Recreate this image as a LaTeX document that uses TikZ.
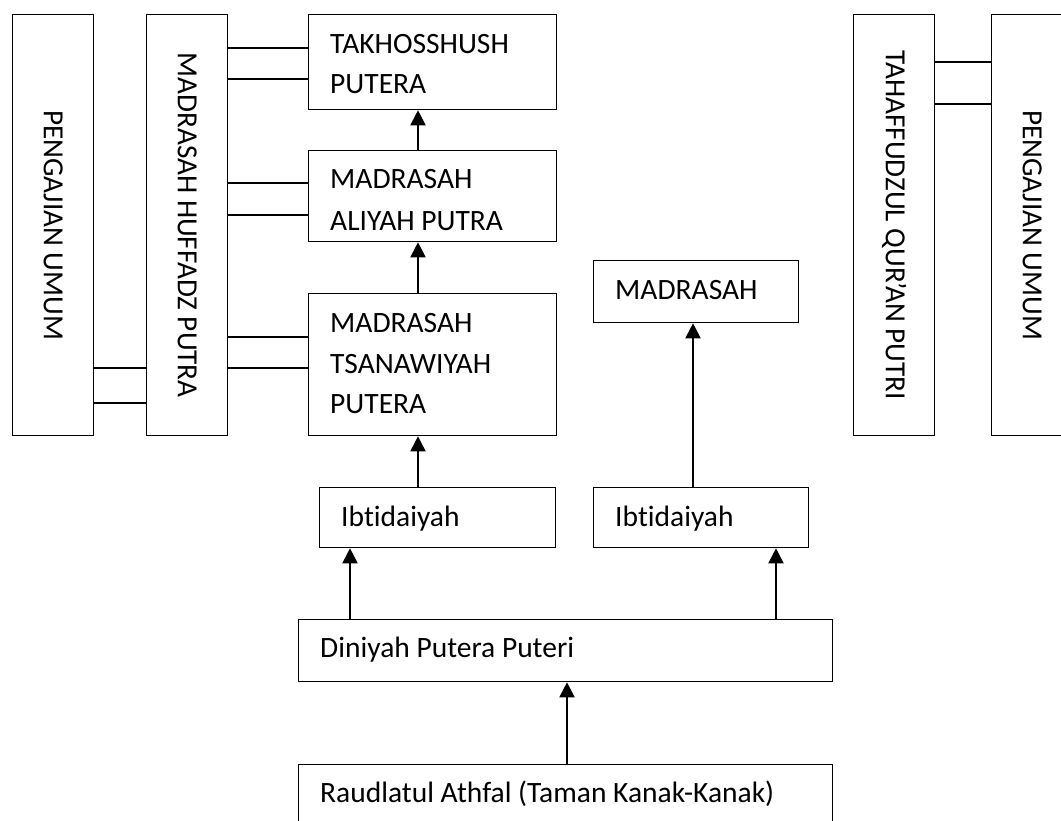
\documentclass[tikz,border=0pt]{standalone}
\usepackage{fontspec}
\setmainfont{Carlito}[Ligatures={NoCommon}]
\usetikzlibrary{arrows.meta}
\begin{document}
\begin{tikzpicture}[x=1pt,y=-1pt,
  box/.style={draw,line width=1.3pt,inner sep=0pt,anchor=north west},
  txt/.style={anchor=base west,inner sep=0pt,font=\fontsize{29.5}{34}\selectfont},
  vtxt/.style={rotate=-90,inner sep=0pt,font=\fontsize{29.2}{34}\selectfont},
  link/.style={line width=1.3pt},
  arr/.style={line width=2pt,-{Triangle[length=15pt,width=15pt]}}]
\useasboundingbox (0,0) rectangle (1061,820);
% boxes
\node[box,minimum width=81pt,minimum height=421pt] (peng1) at (12,14) {};
\node[box,minimum width=81pt,minimum height=421pt] (huff) at (146,14) {};
\node[box,minimum width=248pt,minimum height=95pt] (tak) at (308,14) {};
\node[box,minimum width=248pt,minimum height=91pt] (ali) at (308,150) {};
\node[box,minimum width=248pt,minimum height=142pt] (tsa) at (308,293) {};
\node[box,minimum width=205pt,minimum height=62pt] (mad) at (593,260) {};
\node[box,minimum width=236pt,minimum height=60pt] (ibl) at (319,487) {};
\node[box,minimum width=215pt,minimum height=60pt] (ibr) at (593,487) {};
\node[box,minimum width=534pt,minimum height=62pt] (din) at (298,619) {};
\node[box,minimum width=534pt,minimum height=70pt] (rau) at (298,764) {};
\node[box,minimum width=81pt,minimum height=421pt] (tah) at (853,14) {};
\node[box,minimum width=81pt,minimum height=421pt] (peng2) at (991,14) {};
% vertical texts
\node[vtxt] (tpeng1) at (peng1.center) {PENGAJIAN UMUM};
\node[vtxt] (thuff) at (huff.center) {MADRASAH HUFFADZ PUTRA};
\node[vtxt] (ttah) at (tah.center) {TAHAFFUDZUL QUR’AN PUTRI};
\node[vtxt] (tpeng2) at (peng2.center) {PENGAJIAN UMUM};
% horizontal texts
\node[txt] (t1) at (330,53) {TAKHOSSHUSH};
\node[txt] (t2) at (330,93) {PUTERA};
\node[txt] (a1) at (330,188) {MADRASAH};
\node[txt] (a2) at (330,230) {ALIYAH PUTRA};
\node[txt] (s1) at (330,332) {MADRASAH};
\node[txt] (s2) at (330,373) {TSANAWIYAH};
\node[txt] (s3) at (330,413) {PUTERA};
\node[txt] (m1) at (615,299) {MADRASAH};
\node[txt] (il) at (341,526) {Ibtidaiyah};
\node[txt] (ir) at (615,526) {Ibtidaiyah};
\node[txt] (dt) at (320,657) {Diniyah Putera Puteri};
\node[txt] (rt) at (320,802) {Raudlatul Athfal (Taman Kanak-Kanak)};
% horizontal links
\coordinate (y1) at (0,48);  \coordinate (y2) at (0,79);
\coordinate (y3) at (0,183); \coordinate (y4) at (0,215);
\coordinate (y5) at (0,337); \coordinate (y6) at (0,368);
\coordinate (y7) at (0,368); \coordinate (y8) at (0,403);
\coordinate (y9) at (0,62);  \coordinate (y10) at (0,104);
\draw[link] (huff.east |- y1) -- (tak.west |- y1);
\draw[link] (huff.east |- y2) -- (tak.west |- y2);
\draw[link] (huff.east |- y3) -- (ali.west |- y3);
\draw[link] (huff.east |- y4) -- (ali.west |- y4);
\draw[link] (huff.east |- y5) -- (tsa.west |- y5);
\draw[link] (huff.east |- y6) -- (tsa.west |- y6);
\draw[link] (peng1.east |- y7) -- (huff.west |- y7);
\draw[link] (peng1.east |- y8) -- (huff.west |- y8);
\draw[link] (tah.east |- y9) -- (peng2.west |- y9);
\draw[link] (tah.east |- y10) -- (peng2.west |- y10);
% arrows
\coordinate (xa) at (418,0);
\coordinate (xb) at (693,0);
\coordinate (xc) at (350,0);
\coordinate (xd) at (776,0);
\coordinate (xe) at (567,0);
\draw[arr] (ali.north -| xa) -- (tak.south -| xa);
\draw[arr] (tsa.north -| xa) -- (ali.south -| xa);
\draw[arr] (ibl.north -| xa) -- (tsa.south -| xa);
\draw[arr] (ibr.north -| xb) -- (mad.south -| xb);
\draw[arr] (din.north -| xc) -- (ibl.south -| xc);
\draw[arr] (din.north -| xd) -- (ibr.south -| xd);
\draw[arr] (rau.north -| xe) -- (din.south -| xe);
\end{tikzpicture}
\end{document}
